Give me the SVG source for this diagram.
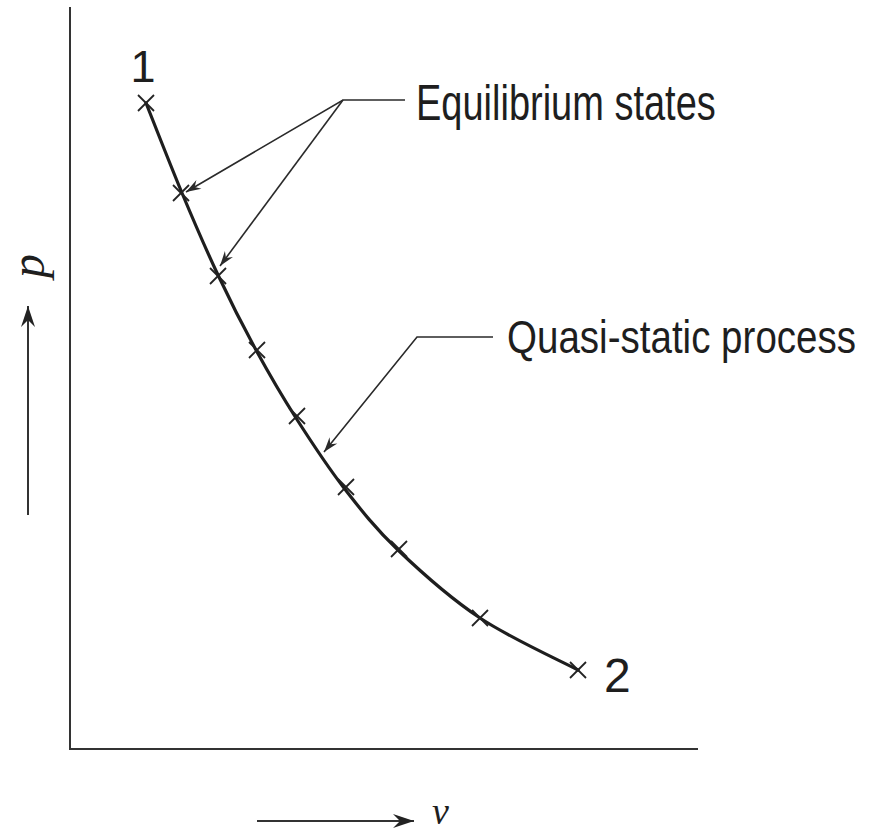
<svg xmlns="http://www.w3.org/2000/svg" width="871" height="833" viewBox="0 0 871 833">
  <style>
    .axis { stroke: #333; stroke-width: 2; fill: none; }
    .curve { stroke: #1e1e1e; stroke-width: 3.2; fill: none; stroke-linecap: round; }
    .lead { stroke: #2a2a2a; stroke-width: 1.6; fill: none; }
    .mark { stroke: #222; stroke-width: 1.8; fill: none; }
    .lbl { font-family: "Liberation Sans", Arial, sans-serif; fill: #1e1e1e; }
    .var { font-family: "Liberation Serif", "Times New Roman", serif; font-style: italic; fill: #1e1e1e; }
  </style>
  <defs>
    <marker id="barb" viewBox="-16 -6 18 12" refX="0" refY="0" markerWidth="18" markerHeight="12" markerUnits="userSpaceOnUse" orient="auto">
      <path d="M0,0 L-15,-5 L-10,0 L-15,5 Z" fill="#2a2a2a"/>
    </marker>
    <marker id="axhead" viewBox="-22 -8 24 16" refX="0" refY="0" markerWidth="24" markerHeight="16" markerUnits="userSpaceOnUse" orient="auto">
      <path d="M0,0 L-21,-7 L-14,0 L-21,7 Z" fill="#222"/>
    </marker>
    <g id="x">
      <line class="mark" x1="-8" y1="-8" x2="8" y2="8"/>
      <line class="mark" x1="-8" y1="8" x2="8" y2="-8"/>
    </g>
  </defs>

  <rect width="871" height="833" fill="#ffffff"/>

  <g id="axes">
    <line class="axis" x1="70" y1="7" x2="70" y2="750"/>
    <line class="axis" x1="69" y1="749" x2="698" y2="749"/>
  </g>

  <g id="process-curve">
    <path class="curve" d="M146,103 C152,118 170,164.3 182,193 C194,221.7 205.7,248.8 218,275 C230.3,301.2 243,326.2 256,350 C269,373.8 281.3,395 296,418 C310.7,441 327,466 344,488 C361,510 375.3,528.3 398,550 C420.7,571.7 450,598 480,618 C510,638 561.7,661.3 578,670"/>
  </g>

  <g id="states">
    <use href="#x" x="146" y="103"/>
    <use href="#x" x="181" y="193"/>
    <use href="#x" x="218" y="276"/>
    <use href="#x" x="257" y="350"/>
    <use href="#x" x="297" y="416"/>
    <use href="#x" x="346" y="487"/>
    <use href="#x" x="399" y="549"/>
    <use href="#x" x="480" y="618"/>
    <use href="#x" x="578" y="670"/>
  </g>

  <g id="connectors">
    <polyline class="lead" points="405,100 343,100 186,192" marker-end="url(#barb)"/>
    <line class="lead" x1="343" y1="100" x2="220" y2="266" marker-end="url(#barb)"/>
    <polyline class="lead" points="493,337 417,337 324,452" marker-end="url(#barb)"/>
    <line class="axis" x1="28" y1="515" x2="28" y2="306" marker-end="url(#axhead)"/>
    <line class="axis" x1="257" y1="821" x2="414" y2="821" marker-end="url(#axhead)"/>
  </g>

  <g id="label-equilibrium">
    <text class="lbl" transform="translate(416,120) scale(0.76,1)" font-size="50">Equilibrium states</text>
  </g>
  <g id="label-quasi">
    <text class="lbl" transform="translate(507,353) scale(0.82,1)" font-size="47">Quasi-static process</text>
  </g>
  <g id="label-1">
    <text class="lbl" x="143" y="82" font-size="45" text-anchor="middle">1</text>
  </g>
  <g id="label-2">
    <text class="lbl" x="604" y="692" font-size="48">2</text>
  </g>
  <g id="label-p">
    <text class="var" transform="translate(44,266) rotate(-90)" font-size="48" text-anchor="middle">p</text>
  </g>
  <g id="label-v">
    <text class="var" x="432" y="824" font-size="38">v</text>
  </g>
</svg>
